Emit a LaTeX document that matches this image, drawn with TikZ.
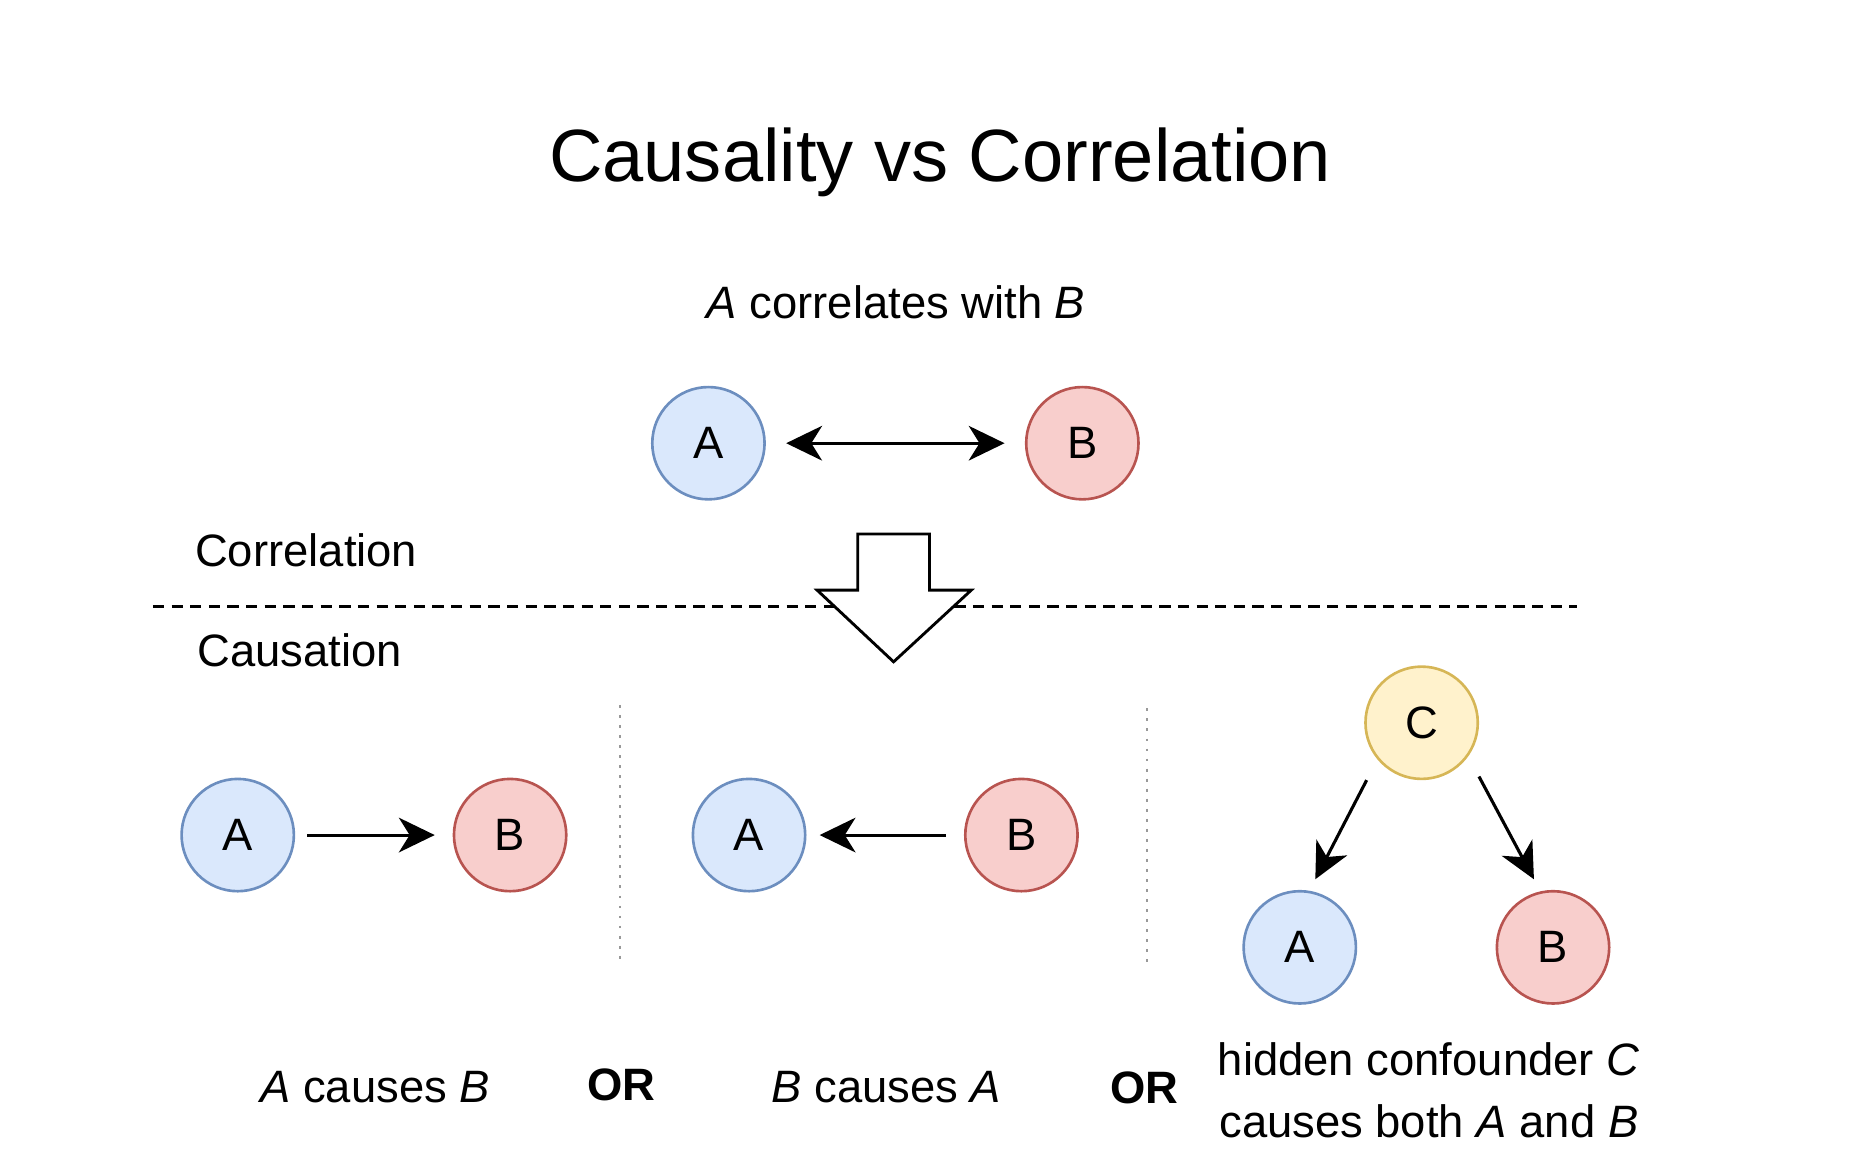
\documentclass[tikz,border=0pt]{standalone}
\usepackage{fontspec}
\setmainfont{Liberation Sans}
\usetikzlibrary{arrows.meta, calc}
\definecolor{blueFill}{HTML}{DAE8FC}
\definecolor{blueLine}{HTML}{6C8EBF}
\definecolor{redFill}{HTML}{F8CECC}
\definecolor{redLine}{HTML}{B85450}
\definecolor{yellowFill}{HTML}{FFF2CC}
\definecolor{yellowLine}{HTML}{D6B656}
\newcommand\txt{\fontsize{19}{26}\selectfont}

\begin{document}
\begin{tikzpicture}[x=0.5pt, y=-0.5pt,
  every node/.style={font=\txt},
  var/.style={draw, circle, minimum size=47pt, inner sep=0pt, line width=1.1pt},
  varA/.style={var, draw=blueLine, fill=blueFill},
  varB/.style={var, draw=redLine, fill=redFill},
  varC/.style={var, draw=yellowLine, fill=yellowFill},
  tip/.tip={Stealth[length=15pt, width=14.5pt, inset=4.5pt]},
  arr/.style={-tip, line width=1.3pt},
  biarr/.style={tip-tip, line width=1.3pt},
  sep/.style={black!40, line width=1pt, dash pattern=on 1.2pt off 3pt},
  border/.style={dash pattern=on 4.7pt off 3.1pt, line width=1.2pt}]
\useasboundingbox (0,0) rectangle (1567,984);
\node[anchor=base, font=\fontsize{31}{37}\selectfont] (title) at (787,152) {Causality vs Correlation};
\node[anchor=base] (corr) at (750,267) {\textit{A} correlates with \textit{B}};
\node[varA] (a0) at (593,371) {A};
\node[varB] (b0) at (906,371) {B};
\draw[biarr, shorten <=8.5pt, shorten >=8.5pt] (a0) -- (b0);
\node[anchor=base west, inner sep=0pt] (corrlbl) at (163,474) {Correlation};
\node[anchor=base west, inner sep=0pt] (causlbl) at (165,558) {Causation};
\draw[border] (128,508) -- (1320,508);
\filldraw[fill=white, line width=1.2pt] (718,447) -- (778,447) -- (778,494) -- (813,494) -- (748,554) -- (684,494) -- (718,494) -- cycle;
\draw[sep] (519,590) -- (519,805);
\draw[sep] (960,593) -- (960,808);
\node[varA] (a1) at (199,699) {A};
\node[varB] (b1) at (427,699) {B};
\draw[arr, shorten <=5pt, shorten >=7.5pt] (a1) -- (b1);
\node[varA] (a2) at (627,699) {A};
\node[varB] (b2) at (855,699) {B};
\draw[arr, shorten <=7.5pt, shorten >=5.5pt] (b2) -- (a2);
\node[varC] (c3) at (1190,605) {C};
\node[varA] (a3) at (1088,793) {A};
\node[varB] (b3) at (1300,793) {B};
\draw[arr] ($(c3)+(-46,48)$) -- ($(a3)+(13,-57)$);
\draw[arr] ($(c3)+(48,45)$) -- ($(b3)+(-16,-57)$);
\node[anchor=base] (ab) at (314,923) {\textit{A} causes \textit{B}};
\node[anchor=base, font=\txt\bfseries] (or1) at (520,921) {OR};
\node[anchor=base] (ba) at (742,923) {\textit{B} causes \textit{A}};
\node[anchor=base, font=\txt\bfseries] (or2) at (958,924) {OR};
\node[anchor=base, align=center] (conf) at (1196,952) {hidden confounder \textit{C}\\causes both \textit{A} and \textit{B}};
\end{tikzpicture}
\end{document}
